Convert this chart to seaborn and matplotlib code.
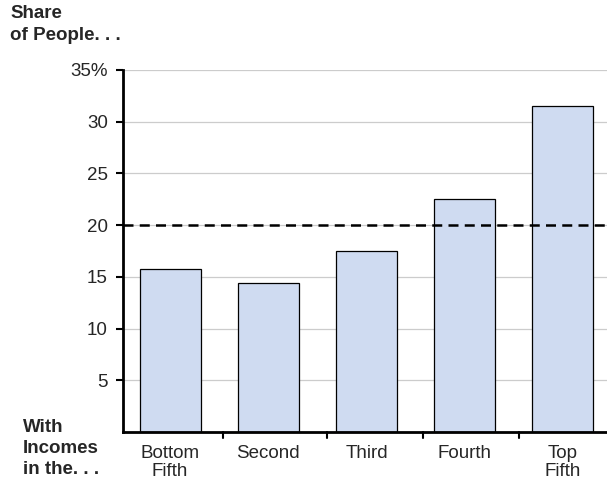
import matplotlib
matplotlib.use("Agg")
from matplotlib import pyplot as plt
import seaborn as sns
import pandas as pd

categories = ["Bottom\nFifth", "Second", "Third", "Fourth", "Top\nFifth"]
shares = [15.8, 14.4, 17.5, 22.5, 31.5]
y_ticks = [5, 10, 15, 20, 25, 30, 35]
y_labels = ["5", "10", "15", "20", "25", "30", "35%"]
equal_share = 20

df = pd.DataFrame({"Quintile": categories, "Share": shares})

sns.set_theme(style="white")
plt.rcParams["font.family"] = ["Liberation Sans", "DejaVu Sans"]

fig = plt.figure(figsize=(6.07, 4.87), dpi=100)
ax = fig.add_axes([123 / 607, 1 - 432 / 487, (607 - 123) / 607, (432 - 70) / 487])

sns.barplot(data=df, x="Quintile", y="Share", ax=ax, color="#cfdbf1",
            width=0.62, edgecolor="black", linewidth=0.9, saturation=1)

ax.set_ylim(0, 35)
ax.set_xlim(-0.48, 4.45)
ax.set_yticks(y_ticks)
ax.set_yticklabels(y_labels, fontsize=13.5)
ax.yaxis.grid(True, color="#cccccc", linewidth=0.9)
ax.set_axisbelow(True)
ax.axhline(equal_share, color="black", linestyle=(0, (4, 2.5)), linewidth=1.8, zorder=5)

# category labels centred on bars, ticks between categories
ax.set_xticks(range(len(categories)))
ax.set_xticklabels(categories, fontsize=13.5, linespacing=1.1)
ax.tick_params(axis="x", length=0, pad=9)
for b in [0.54, 1.6, 2.58, 3.55]:
    ax.plot([b, b], [0, -0.6], color="black", linewidth=1.5, clip_on=False)
ax.tick_params(axis="y", length=5, width=1.5, color="black", pad=6, direction="out", left=True)

for side in ["top", "right"]:
    ax.spines[side].set_visible(False)
for side in ["left", "bottom"]:
    ax.spines[side].set_color("black")
    ax.spines[side].set_linewidth(2)
ax.set_xlabel("")
ax.set_ylabel("")

fig.text(10 / 607, 1 - 5 / 487, "Share\nof People. . .", fontsize=13.5, fontweight="bold",
         va="top", ha="left", linespacing=1.35)
fig.text(23 / 607, 1 - 419 / 487, "With\nIncomes\nin the. . .", fontsize=13.5, fontweight="bold",
         va="top", ha="left", linespacing=1.3)

fig.savefig("out.png", dpi=100)
